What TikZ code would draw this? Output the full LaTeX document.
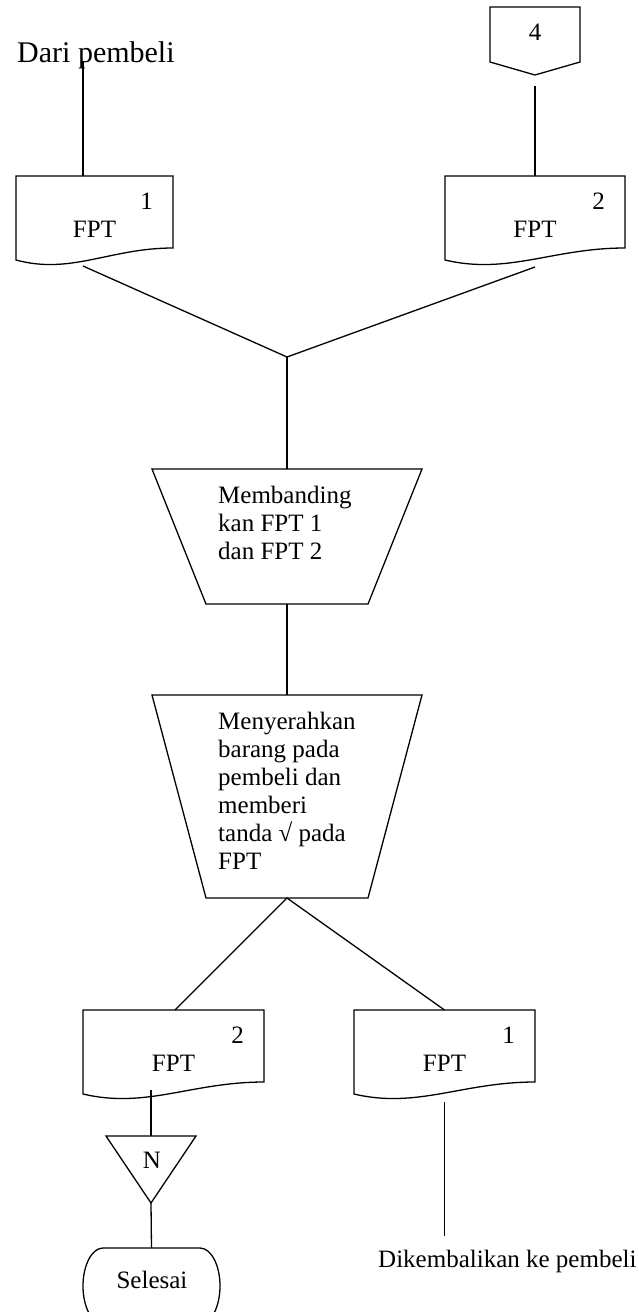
\documentclass[tikz,border=0pt]{standalone}
\usepackage{fontspec}
\setmainfont{Liberation Serif}
\usetikzlibrary{calc}

\tikzset{
  frame/.style={rectangle, draw=none, inner sep=0pt, outer sep=0pt},
  flow/.style={line width=1.3pt, line join=miter},
  lbl/.style={inner sep=0pt, font=\fontsize{25}{28}\selectfont},
  biglbl/.style={inner sep=0pt, font=\fontsize{30}{34}\selectfont},
  proc/.style={lbl, align=left, anchor=north west},
}

% document symbol: name, left x, top y, width, copy number
\newcommand\fptdoc[5]{%
  \node[frame, minimum width=#4pt, minimum height=84pt] (#1) at ({#2+#4/2},{#3+42}) {};
  \draw[flow] (#1.north west) -- (#1.north east) -- ([yshift=12pt]#1.south east)
    .. controls ([xshift={0.6*#4}, yshift=12pt]#1.south west)
    and ([xshift={0.35*#4}, yshift=-15pt]#1.south west) .. (#1.south west) -- cycle;
  \node[lbl, anchor=base] (#1-label) at ([yshift=-61pt]#1.north) {FPT};
  \node[lbl, anchor=base east] (#1-copy) at ([xshift=-20pt, yshift=-33pt]#1.north east) {#5};
}

\begin{document}
\begin{tikzpicture}[x=1pt, y=-1pt]
\useasboundingbox (0,0) rectangle (639,1312);
\clip (0,0) rectangle (639,1312);

% inputs
\node[biglbl, anchor=base west] (src) at (17,62) {Dari pembeli};
\fptdoc{d1}{16}{176}{157}{1}

\node[frame, minimum width=90pt, minimum height=68pt] (c4) at (535,41) {};
\draw[flow] (c4.north west) -- (c4.north east) -- ($(c4.south east)+(0,-13)$)
  -- (c4.south) -- ($(c4.south west)+(0,-13)$) -- cycle;
\node[lbl, anchor=base] (c4-label) at (535,40) {4};
\fptdoc{d2}{445}{176}{180}{2}

\coordinate (join) at (287,357);

% manual operations
\node[frame, minimum width=270pt, minimum height=135pt] (t1) at (287,536.5) {};
\draw[flow] (t1.north west) -- (t1.north east) -- ($(t1.south east)+(-54,0)$)
  -- ($(t1.south west)+(54,0)$) -- cycle;
\node[proc] (t1-label) at (218,483) {\rule{0pt}{20pt}Membanding\\kan FPT 1\\dan FPT 2};

\node[frame, minimum width=270pt, minimum height=203pt] (t2) at (287,796.5) {};
\draw[flow] (t2.north west) -- (t2.north east) -- ($(t2.south east)+(-54,0)$)
  -- ($(t2.south west)+(54,0)$) -- cycle;
\node[proc] (t2-label) at (218,709) {\rule{0pt}{20pt}Menyerahkan\\barang pada\\pembeli dan\\memberi\\tanda √ pada\\FPT};

% outputs
\fptdoc{d3}{83}{1010}{181}{2}
\fptdoc{d4}{354}{1010}{181}{1}

\node[frame, minimum width=90pt, minimum height=67pt] (tri) at (151,1169.5) {};
\draw[flow] (tri.north west) -- (tri.north east) -- (tri.south) -- cycle;
\node[lbl, anchor=base] (tri-label) at (152,1168) {N};

\node[frame, minimum width=137pt, minimum height=76pt] (term) at (151.5,1286) {};
\draw[flow] ($(term.north west)+(20,0)$) -- ($(term.north east)+(-20,0)$)
  arc[start angle=90, end angle=-90, x radius=20pt, y radius=38pt]
  -- ($(term.south west)+(20,0)$)
  arc[start angle=270, end angle=90, x radius=20pt, y radius=38pt] -- cycle;
\node[lbl, anchor=base] (term-label) at (152,1288) {Selesai};

\node[lbl, anchor=base west] (ret) at (378,1267) {Dikembalikan ke pembeli};

% connectors
\coordinate (d1-in) at ($(d1.north west)+(67,0)$);
\coordinate (d1-out) at ($(d1.south west)+(67,6)$);
\draw[flow] (d1-in |- src.base) -- (d1-in);
\draw[flow] (d1-out) -- (join);
\draw[flow] ($(c4.south)+(0,11)$) -- (d2.north);
\draw[flow] ($(d2.south)+(0,7)$) -- (join);
\draw[flow] (join) -- (t1.north);
\draw[flow] (t1.south) -- (t2.north);
\draw[flow] (t2.south) -- ($(d3.north)+(1.5,0)$);
\draw[flow] (t2.south) -- (d4.north);
\draw[flow] ($(tri.north |- d3.south)+(0,-4)$) -- (tri.north);
\draw[flow] (tri.south) -- (term.north);
\draw[flow] ($(d4.south)+(0,8)$) -- ($(ret.north -| d4.south)+(0,-13)$);
\end{tikzpicture}
\end{document}
